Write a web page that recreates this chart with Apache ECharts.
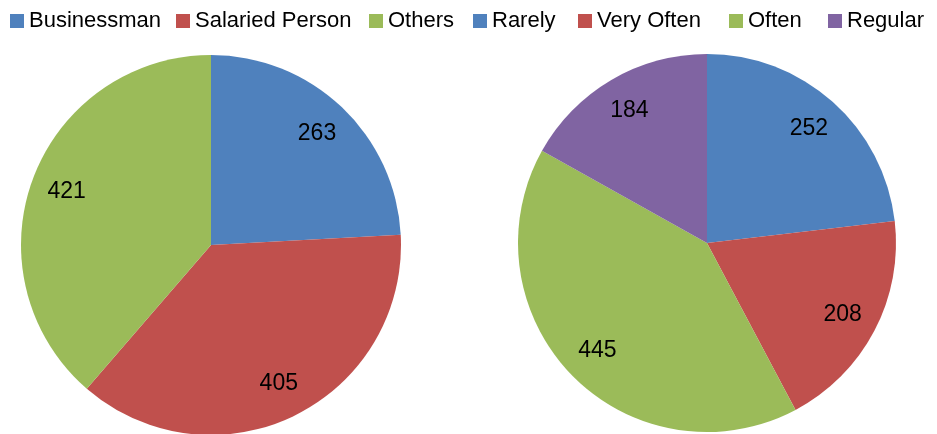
<!DOCTYPE html>
<html><head><meta charset="utf-8">
<script src="https://cdn.jsdelivr.net/npm/echarts@6/dist/echarts.min.js"></script>
<style>html,body{margin:0;padding:0;background:#fff}#c{width:937px;height:434px}</style>
</head><body><div id="c"></div>
<script>
const leftNames = ['Businessman', 'Salaried Person', 'Others'];
const leftValues = [263, 405, 421];
const rightNames = ['Rarely', 'Very Often', 'Often', 'Regular'];
const rightValues = [252, 208, 445, 184];
const leftColors = ['#4F81BD', '#C0504D', '#9BBB59'];
const rightColors = ['#4F81BD', '#C0504D', '#9BBB59', '#8064A2'];
const leftLegendX = [10, 176, 369];
const rightLegendX = [473, 578, 729, 828];

const font = 'Liberation Sans, Arial, sans-serif';
function mk(names, values, colors) {
  return names.map((n, i) => ({ name: n, value: values[i], itemStyle: { color: colors[i] } }));
}
function pies(names, values, colors, center, r) {
  return [
    { type: 'pie', center: center, radius: r, startAngle: 90, clockwise: true,
      animation: false, label: { show: false }, labelLine: { show: false },
      emphasis: { disabled: true }, data: mk(names, values, colors) },
    { type: 'pie', center: center, radius: [r * 0.59, r], startAngle: 90, clockwise: true,
      animation: false, silent: true, legendHoverLink: false,
      itemStyle: { color: 'rgba(0,0,0,0)' },
      label: { show: true, position: 'inside', formatter: '{c}', color: '#000', fontSize: 23, fontFamily: font },
      labelLine: { show: false }, emphasis: { disabled: true },
      data: names.map((n, i) => ({ name: n, value: values[i], itemStyle: { color: 'rgba(0,0,0,0)' } })) }
  ];
}
function legends(names, colors, xs) {
  return names.map((n, i) => ({
    left: xs[i], top: 10, padding: 0, itemWidth: 14, itemHeight: 14, icon: 'rect',
    textStyle: { fontSize: 22, fontFamily: font, color: '#000' },
    data: [{ name: n, itemStyle: { color: colors[i] } }]
  }));
}
const chart = echarts.init(document.getElementById('c'));
chart.setOption({
  backgroundColor: '#fff',
  legend: [...legends(leftNames, leftColors, leftLegendX), ...legends(rightNames, rightColors, rightLegendX)],
  series: [
    ...pies(leftNames, leftValues, leftColors, [211, 245], 190),
    ...pies(rightNames, rightValues, rightColors, [707, 243], 189)
  ]
});
</script></body></html>
